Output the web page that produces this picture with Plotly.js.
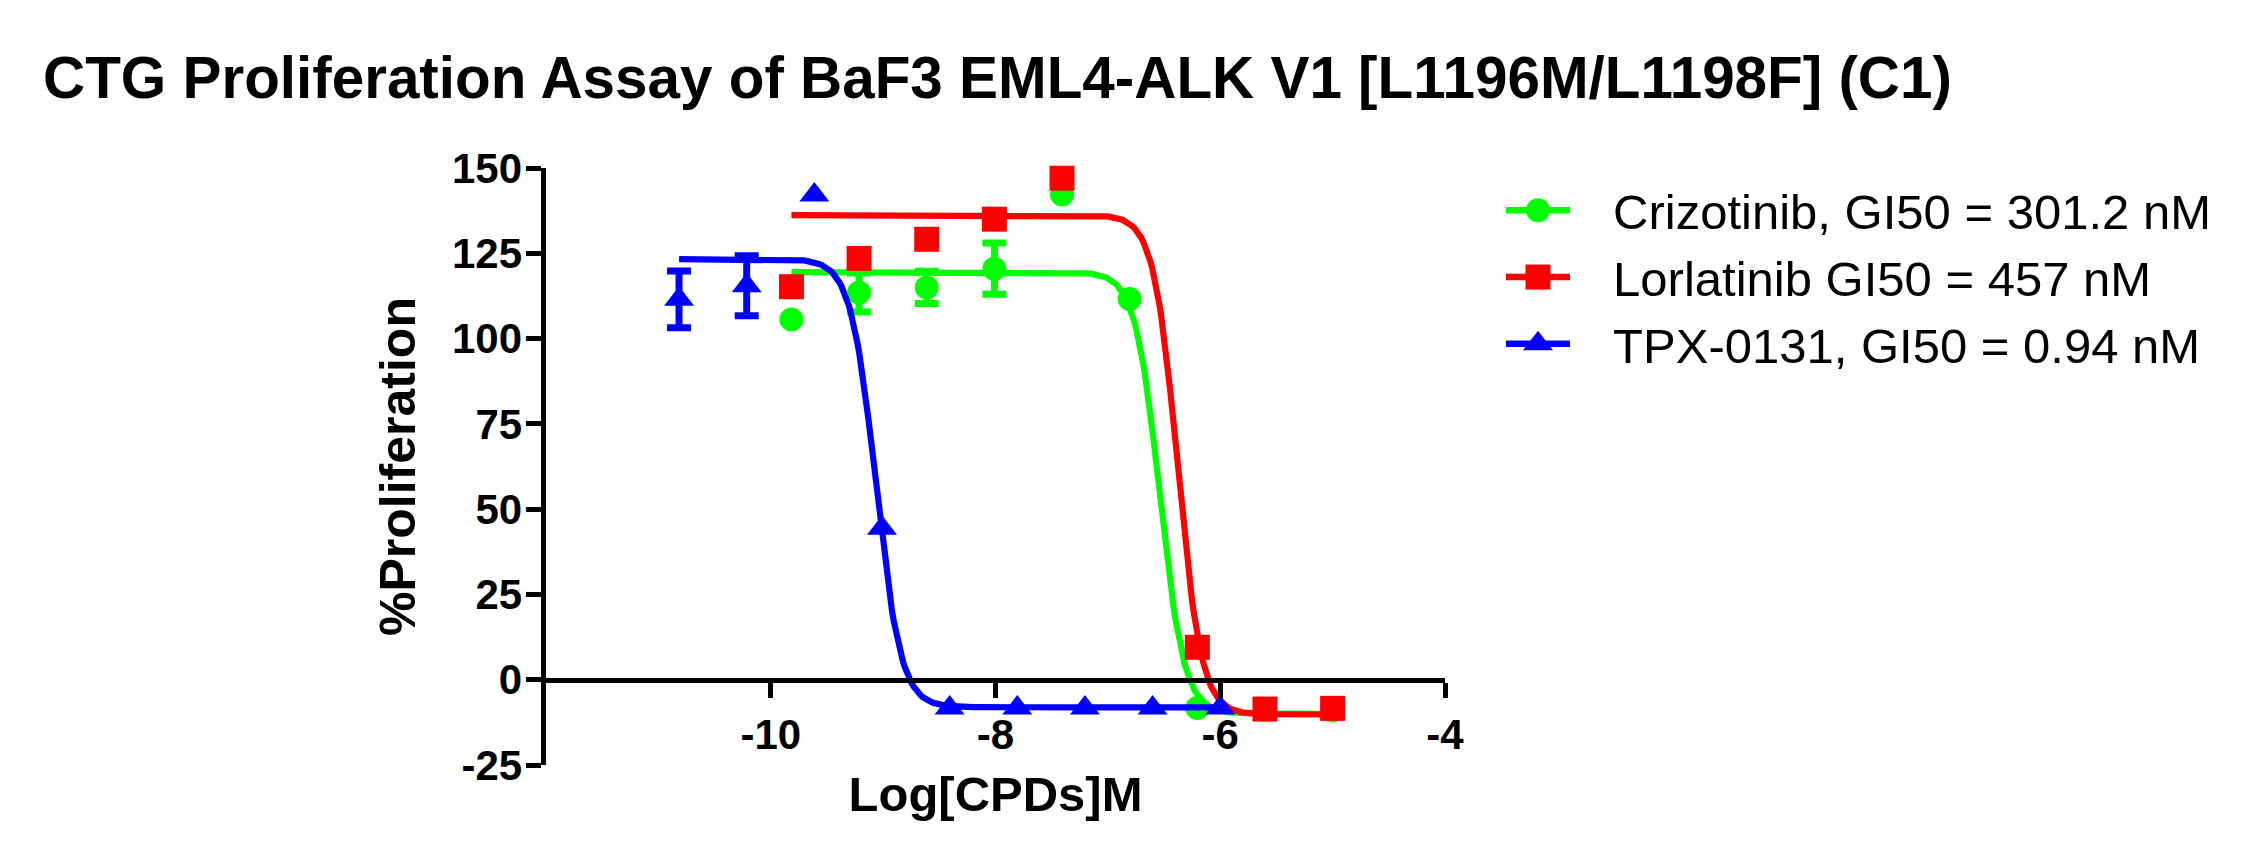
<!DOCTYPE html>
<html>
<head>
<meta charset="utf-8">
<script src="https://cdn.plot.ly/plotly-3.0.1.min.js"></script>
<style>html,body{margin:0;padding:0;background:#fff}#chart{width:2255px;height:867px}</style>
</head>
<body>
<div id="chart"></div>
<script>
// ---- data ----
const seriesNames = ['Crizotinib, GI50 = 301.2 nM', 'Lorlatinib GI50 = 457 nM', 'TPX-0131, GI50 = 0.94 nM'];
const seriesColors = ['#00ff00', '#ff0000', '#0000ff'];
const seriesSymbols = ['circle', 'square', 'triangle-up'];

// log10 concentration (M)
const logConcCrizotinib = [-9.816, -9.214, -8.612, -8.010, -7.408, -6.806, -6.204, -5.602, -5.000];
const logConcLorlatinib = [-9.816, -9.214, -8.612, -8.010, -7.408, -6.806, -6.204, -5.602, -5.000];
const logConcTPX0131   = [-10.816, -10.214, -9.612, -9.010, -8.408, -7.806, -7.204, -6.602, -6.000];

// % proliferation (mean) and error (SD)
const crizotinib    = [105.6, 113.5, 115.0, 120.5, 142.2, 111.6, -8.3, -8.8, -9.0];
const crizotinibErr = [null, 5.7, 4.7, 7.5, null, null, null, null, null];
const lorlatinib    = [115.2, 123.5, 129.1, 135.0, 147.0, null, 9.5, -8.6, -8.4];
const lorlatinibErr = [null, null, null, null, null, null, null, null, null];
const tpx0131       = [111.5, 115.5, 142.1, 44.4, -8.3, -8.3, -8.3, -8.3, -8.3];
const tpx0131Err    = [8.3, 8.8, null, null, null, null, null, null, null];

// fitted 4-parameter logistic curves: [Crizotinib, Lorlatinib, TPX-0131]
const fitTop     = [119.5, 136.2, 123.3];
const fitBottom  = [-10.0, -10.2, -8.1];
const fitLogGI50 = [-6.54, -6.38, -9.065];
const fitHill    = [4.0, 4.1, 3.9];
const fitXmin    = [-9.816, -9.816, -10.816];
const fitXmax    = [-5.0, -5.0, -6.0];

const xTickVals = [-10, -8, -6, -4];
const xTickText = ['-10', '-8', '-6', '-4'];
const yTickVals = [-25, 0, 25, 50, 75, 100, 125, 150];
const yTickText = ['-25', '0', '25', '50', '75', '100', '125', '150'];

// ---- build traces ----
const FONT = 'Arial, "Liberation Sans", Helvetica, sans-serif';
const xs = [logConcCrizotinib, logConcLorlatinib, logConcTPX0131];
const ys = [crizotinib, lorlatinib, tpx0131];
const es = [crizotinibErr, lorlatinibErr, tpx0131Err];
const mSizes = [24, 25, 26];

function curve(i) {
  const n = 300, cx = [], cy = [];
  for (let k = 0; k <= n; k++) {
    const x = fitXmin[i] + (fitXmax[i] - fitXmin[i]) * k / n;
    cx.push(x);
    cy.push(fitBottom[i] + (fitTop[i] - fitBottom[i]) / (1 + Math.pow(10, (x - fitLogGI50[i]) * fitHill[i])));
  }
  return {cx, cy};
}

const traces = [];
// legend entries (line + marker)
const LEGEND_PAD = '\u2002\u00A0';
for (let i = 0; i < 3; i++) {
  traces.push({
    type: 'scatter', mode: 'lines+markers', x: [null], y: [null], name: LEGEND_PAD + seriesNames[i],
    line: {color: seriesColors[i], width: 6},
    marker: {symbol: seriesSymbols[i], color: seriesColors[i], size: mSizes[i]},
    showlegend: true, hoverinfo: 'skip'
  });
}
// draw order: green, red, blue
[0, 1, 2].forEach(i => {
  const c = curve(i);
  traces.push({
    type: 'scatter', mode: 'lines', x: c.cx, y: c.cy, showlegend: false,
    line: {color: seriesColors[i], width: 6.2, shape: 'linear'}, hoverinfo: 'skip'
  });
  traces.push({
    type: 'scatter', mode: 'markers', x: xs[i], y: ys[i], showlegend: false,
    marker: {symbol: seriesSymbols[i], color: seriesColors[i], size: mSizes[i], line: {width: 0}},
    error_y: {type: 'data', array: es[i].map(v => (v === null ? NaN : v)), visible: true,
              color: seriesColors[i], thickness: 7, width: 12},
    cliponaxis: false
  });
});

const layout = {
  width: 2255, height: 867,
  margin: {l: 546, r: 810, t: 168, b: 102, pad: 0, autoexpand: false},
  paper_bgcolor: '#ffffff', plot_bgcolor: '#ffffff',
  font: {family: FONT, color: '#000000'},
  title: {
    text: 'CTG Proliferation Assay of BaF3 EML4-ALK V1 [L1196M/L1198F] (C1)',
    font: {family: FONT, size: 58.4, weight: 'bold', color: '#000000'},
    x: 43 / 2255, xanchor: 'left', xref: 'container',
    y: 1 - 78 / 867, yanchor: 'middle', yref: 'container',
    automargin: false
  },
  xaxis: {
    range: [-12, -4], anchor: 'free', position: 25 / 175, side: 'bottom',
    showline: true, linecolor: '#000000', linewidth: 5.5,
    ticks: 'outside', ticklen: 15, tickwidth: 5, tickcolor: '#000000',
    tickvals: xTickVals, ticktext: xTickText,
    tickfont: {family: FONT, size: 42, weight: 'bold', color: '#000000'},
    showgrid: false, zeroline: false, automargin: false,
    title: {text: 'Log[CPDs]M', font: {family: FONT, size: 49, weight: 'bold', color: '#000000'}, standoff: 20}
  },
  yaxis: {
    range: [-25, 150],
    showline: true, linecolor: '#000000', linewidth: 5.5,
    ticks: 'outside', ticklen: 15, tickwidth: 5, tickcolor: '#000000',
    tickvals: yTickVals, ticktext: yTickText, ticklabelstandoff: -5,
    tickfont: {family: FONT, size: 42, weight: 'bold', color: '#000000'},
    showgrid: false, zeroline: false, automargin: false,
    title: {text: '%Proliferation', font: {family: FONT, size: 50, weight: 'bold', color: '#000000'}, standoff: 22}
  },
  showlegend: true,
  legend: {
    x: 1501 / 2255, xanchor: 'left', xref: 'container',
    y: 1 - 172 / 867, yanchor: 'top', yref: 'container',
    font: {family: FONT, size: 49, color: '#000000'},
    itemwidth: 64, bgcolor: 'rgba(0,0,0,0)', borderwidth: 0, traceorder: 'normal'
  }
};

Plotly.newPlot('chart', traces, layout, {staticPlot: true, displayModeBar: false}).then(gd => {
  // Plotly caps legend symbol sizes; enlarge them to match the plotted markers/lines
  try {
    gd.querySelectorAll('.legend g.traces').forEach((g, i) => {
      g.querySelectorAll('.legendpoints path.scatterpts').forEach(p => {
        const t = p.getAttribute('transform') || '';
        p.setAttribute('transform', t + ' scale(' + (mSizes[i] / 16).toFixed(3) + ')');
      });
      g.querySelectorAll('.legendlines path').forEach(p => { p.style.strokeWidth = '6.5px'; });
    });
  } catch (e) {}
});
</script>
</body>
</html>
